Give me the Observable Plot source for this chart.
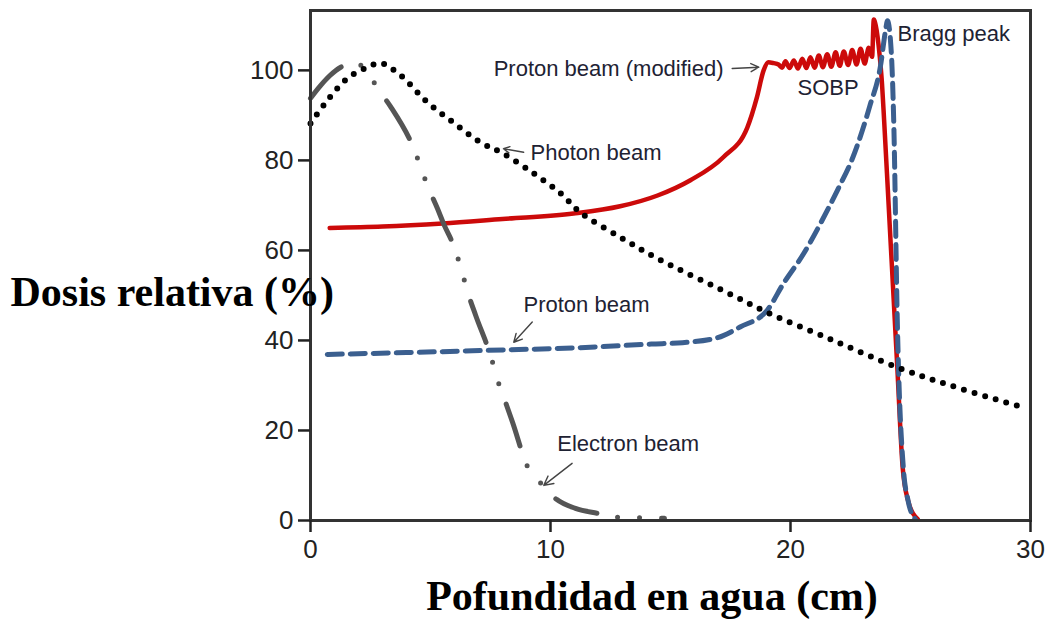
<!DOCTYPE html>
<html>
<head>
<meta charset="utf-8">
<script src="https://cdn.jsdelivr.net/npm/d3@7"></script>
<script src="https://cdn.jsdelivr.net/npm/@observablehq/plot@0.6"></script>
<style>
  html, body { margin: 0; padding: 0; background: #fff; }
  #chart svg { display: block; }
</style>
</head>
<body>
<div id="chart"></div>
<script>
// Depth–dose curves: [depth in water (cm), relative dose (%)]
const photonBeam = [
  [0, 88.2], [0.7, 93.3], [1.54, 98.2], [2.37, 100.7], [2.92, 101.6], [3.75, 98.9],
  [4.87, 92.9], [5.96, 88.4], [7.08, 84], [8.04, 81.5], [9.3, 77.1], [10.42, 72.7],
  [11.25, 68.4], [12.92, 62.9], [14.46, 58.2], [17.6, 50], [19.04, 46.2], [21.7, 40.2],
  [24.46, 34], [26.67, 30], [29.7, 25.1]
];

const electronBeam = [
  [0, 93.8], [0.4, 96.5], [0.8, 98.8], [1.33, 100.9], [1.9, 101.6], [2.4, 99.3],
  [2.8, 96], [3.33, 92], [4.25, 83.3], [4.92, 73.8], [5.29, 69.3], [5.54, 66],
  [6.04, 60], [6.29, 55.6], [6.58, 50.2], [6.88, 45.6], [7.54, 36], [7.79, 31.3],
  [8.13, 26.2], [8.42, 21.8], [9.04, 12], [9.58, 8.4], [10.25, 4.7], [11.04, 2.7],
  [11.96, 1.6], [12.92, 0.7], [13.83, 0.6], [14.75, 0.5]
];

const protonBeam = [
  [0.7, 36.9], [4, 37.3], [7.4, 37.8], [11.25, 38.4], [14.2, 39.2], [15.5, 39.5],
  [16.95, 40.6], [17.9, 43], [19.03, 46.7], [19.7, 52.6], [20.55, 59.3], [21.25, 66],
  [21.95, 73.3], [22.6, 80.7], [23.3, 92], [23.75, 101], [23.96, 108.9], [24.04, 111],
  [24.2, 104], [24.3, 89], [24.46, 42], [24.5, 34], [24.7, 11.8], [24.9, 4.4], [25.2, 0.3]
];

const protonModified = [
  [0.8, 65], [3, 65.3], [5.5, 66], [8, 67], [10.96, 68.2], [12.9, 69.8], [14.46, 72.2],
  [15.83, 75.6], [17.2, 80.7], [18.2, 87.3], [18.6, 94], [18.88, 100], [19.08, 101.8],
  [19.3, 101.6], [19.5, 101.3], [19.65, 100.6], [19.79, 102], [19.96, 100.5],
  [20.14, 102.2], [20.31, 100.4], [20.49, 102.6], [20.66, 100.5], [20.83, 102.9],
  [21, 100.6], [21.18, 103.3], [21.35, 100.7], [21.53, 103.6], [21.7, 100.8],
  [21.88, 104], [22.05, 101], [22.22, 104.2], [22.4, 101.2], [22.57, 104.5],
  [22.75, 101.3], [22.92, 104.8], [23.09, 101.5], [23.26, 105], [23.4, 103],
  [23.47, 111.3], [23.55, 110], [23.72, 103], [23.8, 98], [23.9, 89], [24.08, 71],
  [24.3, 49], [24.45, 34], [24.67, 12], [24.9, 4.4], [25.3, 0.3]
];

const xTicks = [0, 10, 20, 30];
const yTicks = [0, 20, 40, 60, 80, 100];

// Curve annotations and their pointer arrows (data coordinates)
const labelsStart = [
  {text: "Photon beam", x: 9.17, y: 81.6},
  {text: "Proton beam", x: 8.875, y: 47.8},
  {text: "Electron beam", x: 10.28, y: 16.9},
  {text: "SOBP", x: 20.29, y: 96.1},
  {text: "Bragg peak", x: 24.46, y: 108}
];
const labelsEnd = [
  {text: "Proton beam (modified)", x: 17.21, y: 100.3}
];
const pointers = [
  {x1: 17.57, y1: 100.4, x2: 18.68, y2: 100.7},
  {x1: 8.88, y1: 81.8, x2: 8.04, y2: 82.6},
  {x1: 9.24, y1: 44.1, x2: 8.47, y2: 39.6},
  {x1: 10.9, y1: 12.7, x2: 9.72, y2: 7.8}
];

const sans = "'Liberation Sans', Arial, Helvetica, sans-serif";
const serif = "'Liberation Serif', 'Times New Roman', serif";

const chart = Plot.plot({
  width: 1049,
  height: 637,
  marginLeft: 310,
  marginRight: 19,
  marginTop: 10,
  marginBottom: 117,
  style: {fontFamily: sans, fontSize: "26px", color: "#222", background: "#fff", overflow: "visible"},
  x: {domain: [0, 30]},
  y: {domain: [0, 113.3]},
  marks: [
    Plot.line(protonModified, {x: d => d[0], y: d => d[1], curve: "monotone-x",
      stroke: "#cc0a0a", strokeWidth: 4.5}),
    Plot.line(protonBeam, {x: d => d[0], y: d => d[1], curve: "monotone-x",
      stroke: "#3b5f8f", strokeWidth: 5, strokeDasharray: "15 8"}),
    Plot.line(electronBeam, {x: d => d[0], y: d => d[1], curve: "monotone-x",
      stroke: "#555", strokeWidth: 5, strokeLinecap: "round",
      strokeDasharray: "44 21 0 22 0 22"}),
    Plot.line(photonBeam, {x: d => d[0], y: d => d[1], curve: "catmull-rom",
      stroke: "#000", strokeWidth: 6, strokeLinecap: "round", strokeDasharray: "0 11"}),
    Plot.arrow(pointers, {x1: "x1", y1: "y1", x2: "x2", y2: "y2",
      stroke: "#444", strokeWidth: 1.4, headLength: 11, headAngle: 55}),
    Plot.text(labelsStart, {x: "x", y: "y", text: "text", textAnchor: "start",
      fontSize: 22, fill: "#1e2233", fontFamily: sans}),
    Plot.text(labelsEnd, {x: "x", y: "y", text: "text", textAnchor: "end",
      fontSize: 22, fill: "#1e2233", fontFamily: sans}),
    Plot.frame({stroke: "#333", strokeWidth: 3}),
    Plot.axisX({ticks: xTicks, tickSize: 12, tickPadding: 7, strokeWidth: 2.5,
      label: null, fontSize: 26}),
    Plot.axisY({ticks: yTicks, tickSize: 12, tickPadding: 5, strokeWidth: 2.5,
      label: null, fontSize: 26}),
    Plot.text(["Dosis relativa (%)"], {frameAnchor: "left", textAnchor: "start",
      dx: -300, dy: 26.6, fontSize: 42, fontWeight: "bold", fontFamily: serif, fill: "#000"}),
    Plot.text(["Pofundidad en agua (cm)"], {frameAnchor: "bottom", textAnchor: "middle",
      dx: -18.5, dy: 89.6, fontSize: 42, fontWeight: "bold", fontFamily: serif, fill: "#000"})
  ]
});

document.getElementById("chart").appendChild(chart);
</script>
</body>
</html>
